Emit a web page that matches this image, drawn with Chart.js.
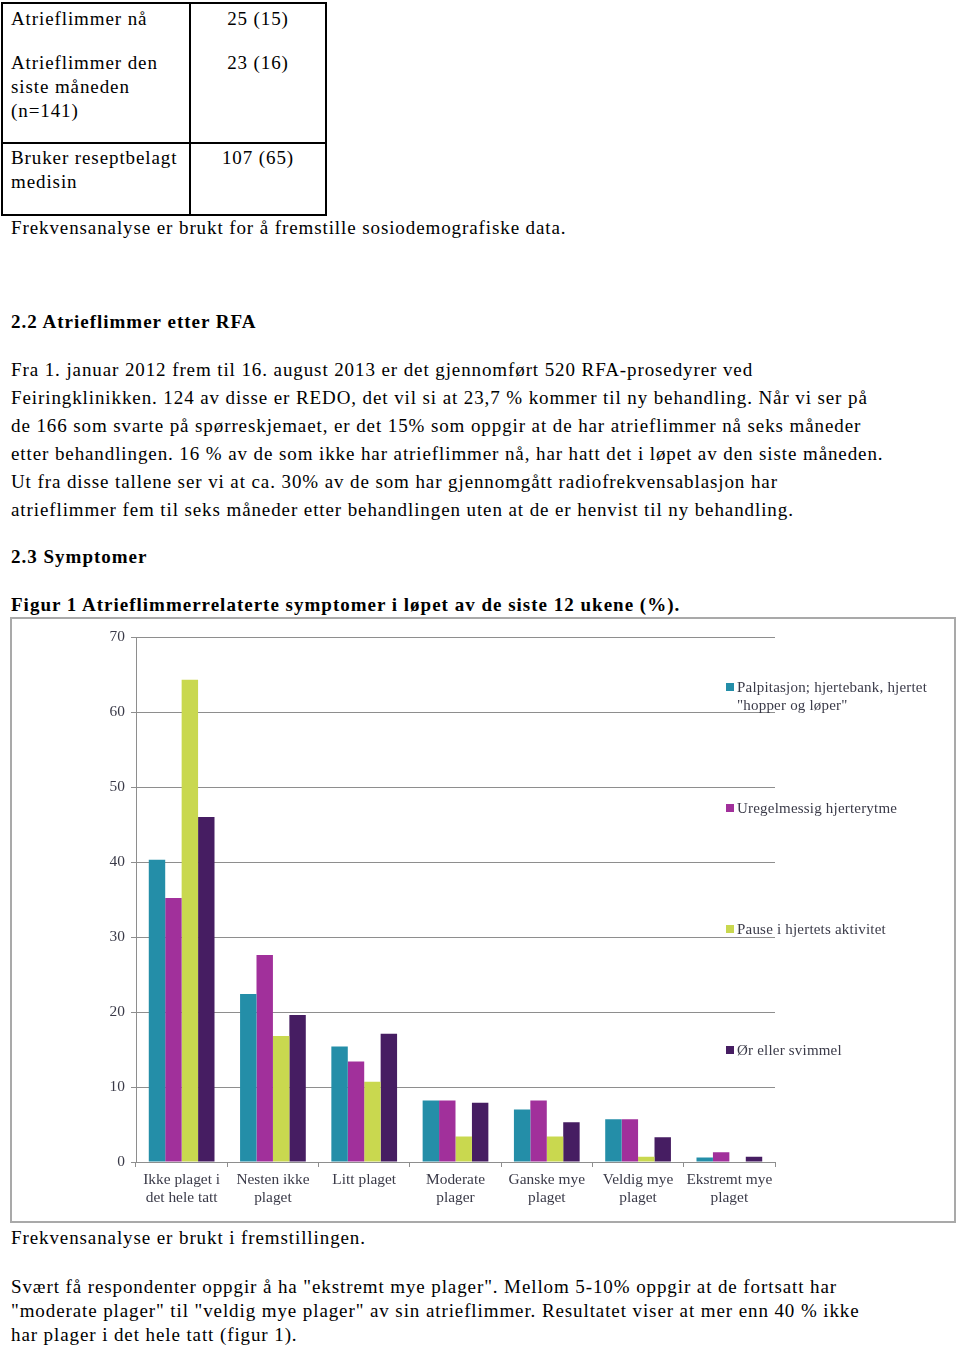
<!DOCTYPE html>
<html>
<head>
<meta charset="utf-8">
<script src="https://cdn.jsdelivr.net/npm/chart.js@4"></script>
<style>
  html, body { margin: 0; padding: 0; background: #fff; }
  body { width: 960px; height: 1347px; position: relative; font-family: "Liberation Serif", "Times New Roman", serif; font-size: 19px; color: #000; letter-spacing: 0.9px; }
  .t { position: absolute; white-space: nowrap; line-height: 24px; }
  .p { position: absolute; white-space: nowrap; }
  .b { font-weight: bold; letter-spacing: 1px; }
  .tbl { position: absolute; left: 1px; top: 2px; width: 322px; height: 210px; border: 2px solid #000; }
  .vl { position: absolute; left: 189px; top: 2px; width: 2px; height: 214px; background: #000; }
  .hl { position: absolute; left: 1px; top: 142px; width: 326px; height: 2px; background: #000; }
  .val { position: absolute; left: 191px; width: 134px; text-align: center; line-height: 24px; }
  #box { position: absolute; left: 10px; top: 617px; width: 942px; height: 602px; border: 2px solid #a9a9a9; letter-spacing: 0; }
  #box canvas { letter-spacing: 0; }
  #legend { position: absolute; left: 726px; top: 0; letter-spacing: 0.2px; }
  .li { position: absolute; left: 0; white-space: nowrap; font-size: 15px; line-height: 18px; color: #3a3a48; }
  .li span.sw { position: absolute; left: 0; top: 5px; width: 8px; height: 8px; }
  .li span.tx { position: absolute; left: 11px; top: 0; }
</style>
</head>
<body>
<div class="tbl"></div>
<div class="vl"></div>
<div class="hl"></div>
<div class="t" style="left:11px;top:7px;">Atrieflimmer nå</div>
<div class="t" style="left:11px;top:51px;">Atrieflimmer den<br>siste måneden<br>(n=141)</div>
<div class="t" style="left:11px;top:146px;">Bruker reseptbelagt<br>medisin</div>
<div class="val" style="top:7px;">25 (15)</div>
<div class="val" style="top:51px;">23 (16)</div>
<div class="val" style="top:146px;">107 (65)</div>

<div class="t" style="left:11px;top:216px;">Frekvensanalyse er brukt for å fremstille sosiodemografiske data.</div>
<div class="t b" style="left:11px;top:310px;">2.2 Atrieflimmer etter RFA</div>
<div class="p" style="left:11px;top:356px;line-height:28px;">Fra 1. januar 2012 frem til 16. august 2013 er det gjennomført 520 RFA-prosedyrer ved<br>Feiringklinikken. 124 av disse er REDO, det vil si at 23,7 % kommer til ny behandling. Når vi ser på<br>de 166 som svarte på spørreskjemaet, er det 15% som oppgir at de har atrieflimmer nå seks måneder<br>etter behandlingen. 16 % av de som ikke har atrieflimmer nå, har hatt det i løpet av den siste måneden.<br>Ut fra disse tallene ser vi at ca. 30% av de som har gjennomgått radiofrekvensablasjon har<br>atrieflimmer fem til seks måneder etter behandlingen uten at de er henvist til ny behandling.</div>
<div class="t b" style="left:11px;top:545px;">2.3 Symptomer</div>
<div class="t b" style="left:11px;top:593px;">Figur 1 Atrieflimmerrelaterte symptomer i løpet av de siste 12 ukene (%).</div>

<div id="box">
  <canvas id="chart1" width="942" height="602"></canvas>
</div>
<div id="legend"></div>

<div class="t" style="left:11px;top:1226px;">Frekvensanalyse er brukt i fremstillingen.</div>
<div class="p" style="left:11px;top:1275px;line-height:24px;">Svært få respondenter oppgir å ha "ekstremt mye plager". Mellom 5-10% oppgir at de fortsatt har<br>"moderate plager" til "veldig mye plager" av sin atrieflimmer. Resultatet viser at mer enn 40 % ikke<br>har plager i det hele tatt (figur 1).</div>

<script>
// categories (x axis, two-line labels)
const categories = [
  ['Ikke plaget i', 'det hele tatt'],
  ['Nesten ikke', 'plaget'],
  ['Litt plaget'],
  ['Moderate', 'plager'],
  ['Ganske mye', 'plaget'],
  ['Veldig mye', 'plaget'],
  ['Ekstremt mye', 'plaget'],
];

const seriesNames = [
  ['Palpitasjon; hjertebank, hjertet', '"hopper og løper"'],
  ['Uregelmessig hjerterytme'],
  ['Pause i hjertets aktivitet'],
  ['Ør eller svimmel'],
];

const palpitasjon = [40.3, 22.4, 15.4, 8.2, 7.0, 5.7, 0.6];
const uregelmessig = [35.2, 27.6, 13.4, 8.2, 8.2, 5.7, 1.3];
const pause = [64.3, 16.8, 10.7, 3.4, 3.4, 0.7, 0];
const svimmel = [46.0, 19.6, 17.1, 7.9, 5.3, 3.3, 0.7];

const seriesColors = ['#248ea8', '#a1309b', '#c9d84f', '#461d62'];
const yTicks = [0, 10, 20, 30, 40, 50, 60, 70];

const seriesValues = [palpitasjon, uregelmessig, pause, svimmel];

const textColor = '#3a3a48';
const gridColor = '#8e8e8e';
const font = { family: '"Liberation Serif", "Times New Roman", serif', size: 15.4 };

const chart1Context = document.getElementById('chart1').getContext('2d');
chart1Context.letterSpacing = '0px';
new Chart(chart1Context, {
  type: 'bar',
  data: {
    labels: categories,
    datasets: seriesValues.map((values, i) => ({
      label: seriesNames[i].join(' '),
      data: values,
      backgroundColor: seriesColors[i],
      barPercentage: 1,
      categoryPercentage: 0.72,
    }))
  },
  options: {
    responsive: false,
    animation: false,
    layout: {
      padding: { left: 0, top: 18, right: 179, bottom: 0 }
    },
    plugins: {
      legend: { display: false },
      tooltip: { enabled: false }
    },
    scales: {
      y: {
        min: 0,
        max: yTicks[yTicks.length - 1],
        afterFit: (scale) => { scale.width = 124; },
        afterBuildTicks: (scale) => { scale.ticks = yTicks.map((v) => ({ value: v })); },
        border: { color: gridColor, width: 1 },
        grid: {
          color: gridColor,
          lineWidth: 1,
          tickLength: 5,
          drawTicks: true,
        },
        ticks: {
          color: textColor,
          font: font,
          padding: 6,
        }
      },
      x: {
        afterFit: (scale) => { scale.height = 59; },
        border: { color: gridColor, width: 1 },
        grid: {
          offset: true,
          drawOnChartArea: false,
          drawTicks: true,
          tickLength: 5,
          color: gridColor,
        },
        ticks: {
          color: textColor,
          font: { ...font, lineHeight: 1.17 },
          padding: 4,
          maxRotation: 0,
          autoSkip: false,
        }
      }
    }
  }
});

// legend on the right of the plot, one item per series
const legendTops = [678, 799, 920, 1041];
const legend = document.getElementById('legend');
seriesNames.forEach((name, i) => {
  const item = document.createElement('div');
  item.className = 'li';
  item.style.top = legendTops[i] + 'px';
  item.innerHTML = '<span class="sw" style="background:' + seriesColors[i] + '"></span><span class="tx"></span>';
  item.querySelector('.tx').innerHTML = name.map((s) => s.replace(/&/g, '&amp;').replace(/</g, '&lt;')).join('<br>');
  legend.appendChild(item);
});
</script>
</body>
</html>
